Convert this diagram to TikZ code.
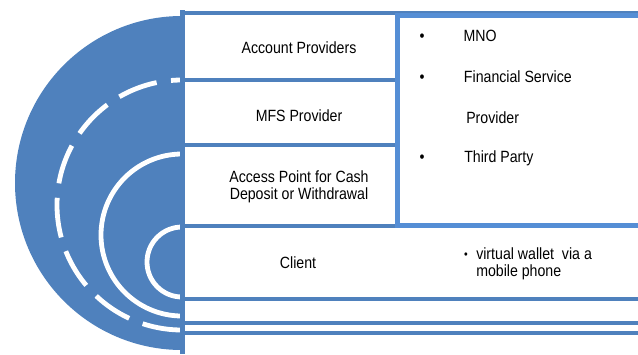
\documentclass[tikz,border=0pt]{standalone}
\usepackage{fontspec}
\setmainfont[FakeStretch=0.87]{Liberation Sans}
\definecolor{ringblue}{HTML}{4F81BD}
\definecolor{boxblue}{HTML}{558ED5}
\tikzset{
	bar/.style={draw=ringblue,line width=3pt},
	ring/.style={draw=white,line width=3.6pt},
	rowtext/.style={anchor=base,inner sep=0pt,font=\fontsize{12.2}{12.75}\selectfont},
	itemtext/.style={anchor=base west,inner sep=0pt,font=\fontsize{12.2}{12.75}\selectfont},
	dot/.style={anchor=base,inner sep=0pt,font=\fontsize{12.2}{12.75}\selectfont},
}
\begin{document}
\begin{tikzpicture}[x=0.75pt,y=-0.75pt]
		\useasboundingbox (0,0) rectangle (638,354);
		% half disc with the rings
		\fill[ringblue] (182,350) arc (90:270:167) -- cycle;
		\draw[ring] (182,297) arc (90:270:35);
		\draw[ring] (182,316) arc (90:270:81);
		\draw[ring,dash pattern=on 30pt off 10.9pt] (182,330) arc (90:270:125);
		% rows
		\draw[bar,line width=3.75pt] (182.5,10) -- (182.5,354);
		\draw[bar] (180,12.5) -- (638,12.5);
		\draw[bar] (180,79.5) -- (398,79.5);
		\draw[bar] (180,145) -- (398,145);
		\draw[bar] (180,225.5) -- (398,225.5);
		\draw[bar] (180,299) -- (638,299);
		\draw[bar] (180,323) -- (638,323);
		\draw[bar] (180,333) -- (638,333);
		\draw[draw=boxblue,line width=3.75pt] (645,15) -- (397.5,15) -- (397.5,225.5) -- (645,225.5);
		% texts
		\node[rowtext] (acc) at (299,53.3) {Account Providers};
		\node[rowtext] (mfs) at (299,121.7) {MFS Provider};
		\node[rowtext,align=center] (apt) at (299,199) {Access Point for Cash\\Deposit or Withdrawal};
		\node[rowtext] (cli) at (298,268) {Client};
		\node[dot] (d1) at (422,41.7) {•};
		\node[dot] (d2) at (422,82.7) {•};
		\node[dot] (d3) at (422,162.7) {•};
		\node[itemtext] (mno) at (463.3,41.7) {MNO};
		\node[itemtext] (fsp) at (463.7,82.7) {Financial Service};
		\node[itemtext] (prv) at (466,123.3) {Provider};
		\node[itemtext] (tpa) at (464,162.7) {Third Party};
		\node[dot,font=\fontsize{9}{10}\selectfont] (d4) at (466,258.3) {•};
		\node[itemtext,align=left] (vwl) at (476,276) {virtual wallet~ via a\\mobile phone};
\end{tikzpicture}
\end{document}
